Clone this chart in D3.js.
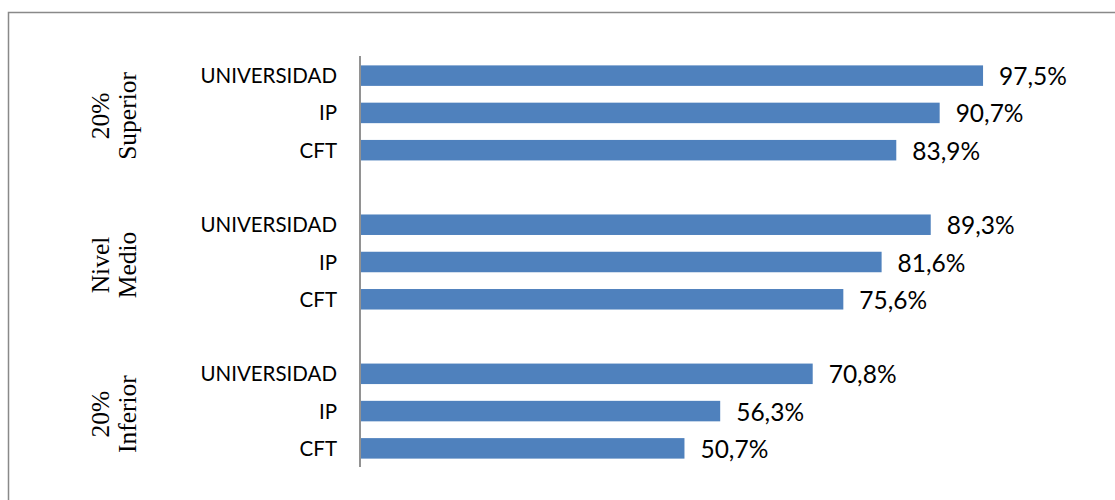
<!DOCTYPE html>
<html>
  <head>
    <meta charset="utf-8">
    <title>Grupos</title>
    <style>
      body { margin: 0; background: #fff; }
      .cat text { font-family: Lato, "Noto Sans", sans-serif; font-size: 20.5px; font-weight: 400; fill: #000; }
      .val text { font-family: Lato, "Noto Sans", sans-serif; font-size: 24.5px; font-weight: 400; fill: #000; }
      .grp text { font-family: "Liberation Serif", "Times New Roman", serif; font-size: 25.5px; font-weight: 400; fill: #000; }
    </style>
    <script src="https://cdn.jsdelivr.net/npm/d3@7"></script>
  </head>
  <body>
    <svg id="container" width="1115" height="500"></svg>
  </body>
  <script>
    // chart data
    const groupLines = [["20%", "Superior"], ["Nivel", "Medio"], ["20%", "Inferior"]];
    const types = ["UNIVERSIDAD", "IP", "CFT"];
    const superior = [97.5, 90.7, 83.9];
    const medio = [89.3, 81.6, 75.6];
    const inferior = [70.8, 56.3, 50.7];
    const seriesByGroup = [superior, medio, inferior];

    const svg = d3.select("#container");

    // outer frame (runs off the right and bottom edge)
    svg.append("rect")
      .attr("x", 8.5).attr("y", 12.5)
      .attr("width", 1200).attr("height", 600)
      .attr("fill", "none")
      .attr("stroke", "#898989")
      .attr("stroke-width", 1.5);

    // rows: three per group, empty slot between groups
    const rows = [];
    const slots = [];
    seriesByGroup.forEach((vals, g) => {
      if (g > 0) slots.push("gap" + g);
      types.forEach((t, i) => {
        const key = g + "-" + i;
        slots.push(key);
        rows.push({ key, group: g, type: t, value: vals[i] });
      });
    });

    const y = d3.scaleBand()
      .domain(slots)
      .range([57, 467])
      .paddingInner(0.45)
      .paddingOuter(0.225);

    const x = d3.scaleLinear()
      .domain([0, 100])
      .range([361, 999]);

    // bars
    svg.append("g")
      .selectAll("rect")
      .data(rows)
      .enter()
      .append("rect")
      .attr("x", x(0))
      .attr("y", d => y(d.key))
      .attr("width", d => x(d.value) - x(0))
      .attr("height", y.bandwidth())
      .attr("fill", "#4F81BD");

    // value labels
    svg.append("g")
      .attr("class", "val")
      .selectAll("text")
      .data(rows)
      .enter()
      .append("text")
      .attr("x", d => x(d.value) + 16)
      .attr("y", d => y(d.key) + y.bandwidth() / 2)
      .attr("dy", "0.39em")
      .text(d => d.value.toFixed(1).replace(".", ",") + "%");

    // axis line
    svg.append("line")
      .attr("x1", 360).attr("x2", 360)
      .attr("y1", 56).attr("y2", 467)
      .attr("stroke", "#929292")
      .attr("stroke-width", 2);

    // category labels
    svg.append("g")
      .attr("class", "cat")
      .selectAll("text")
      .data(rows)
      .enter()
      .append("text")
      .attr("x", 337)
      .attr("y", d => y(d.key) + y.bandwidth() / 2)
      .attr("dy", "0.37em")
      .attr("text-anchor", "end")
      .text(d => d.type);

    // group labels, rotated, two lines each
    const grp = svg.append("g").attr("class", "grp");
    groupLines.forEach((lines, g) => {
      const cy = (y(g + "-0") + y(g + "-2") + y.bandwidth()) / 2;
      const t = grp.append("text")
        .attr("transform", `translate(108.5,${cy + 3}) rotate(-90)`)
        .attr("text-anchor", "middle");
      lines.forEach((s, i) => {
        t.append("tspan")
          .attr("x", 0)
          .attr("dy", i === 0 ? 0 : 27.5)
          .text(s);
      });
    });
  </script>
</html>
